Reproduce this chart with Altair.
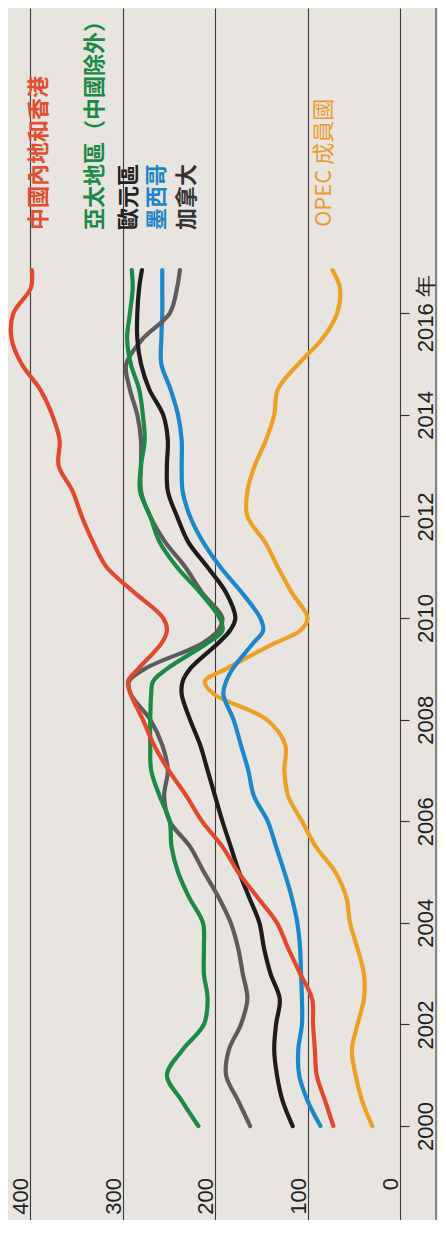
import altair as alt
import pandas as pd

# ---------------- data ----------------
years = [2000, 2000.5, 2001, 2001.5, 2002, 2002.5, 2003, 2003.5, 2004, 2004.5,
         2005, 2005.5, 2006, 2006.5, 2007, 2007.5, 2008, 2008.5, 2008.75, 2009,
         2009.5, 2009.75, 2010, 2010.5, 2011, 2011.5, 2012, 2012.5, 2013, 2013.5,
         2014, 2014.5, 2015, 2015.5, 2016, 2016.5, 2016.85]

china = [72, 81, 90, 92, 94, 95, 108, 121, 133, 154, 175, 192, 214, 231, 250, 266, 278, 291,
         294, 283, 258, 252, 256, 287, 317, 332, 344, 354, 369, 368, 376, 389, 409, 420, 418, 399, 398]
asia = [218, 236, 252, 235, 212, 208, 212, 212, 213, 228, 240, 247, 249, 260, 269, 270, 270, 269,
        267, 252, 209, 192, 195, 216, 241, 260, 270, 281, 280, 276, 278, 282, 291, 295, 292, 289, 290]
euro = [116, 127, 133, 136, 134, 130, 140, 147, 152, 163, 174, 183, 192, 200, 208, 216, 227, 236,
        235, 227, 197, 184, 178, 188, 208, 229, 241, 251, 252, 251, 256, 271, 280, 284, 284, 282, 279]
mexico = [86, 100, 109, 110, 106, 106, 107, 108, 111, 117, 125, 134, 143, 158, 164, 172, 180, 191,
          188, 181, 159, 148, 151, 171, 194, 213, 227, 235, 236, 236, 240, 248, 258, 258, 257, 257, 257]
canada = [162, 175, 188, 185, 172, 165, 170, 175, 183, 196, 212, 227, 249, 255, 251, 257, 270, 291,
          293, 276, 214, 197, 192, 214, 232, 254, 270, 280, 280, 280, 284, 292, 296, 278, 249, 241, 238]
opec = [30, 41, 48, 52, 46, 39, 39, 46, 54, 58, 70, 91, 106, 121, 125, 124, 144, 201,
        211, 188, 136, 108, 100, 117, 132, 146, 165, 165, 157, 145, 136, 132, 110, 84, 68, 65, 73]

series_names = ["中國內地和香港", "亞太地區（中國除外）", "歐元區", "墨西哥", "加拿大", "OPEC 成員國"]
series_values = [china, asia, euro, mexico, canada, opec]

value_ticks = [0, 100, 200, 300, 400]
year_ticks = [2000, 2002, 2004, 2006, 2008, 2010, 2012, 2014, 2016]

# ---------------- styles ----------------
line_colors = {
    "中國內地和香港": "#e2492c",
    "亞太地區（中國除外）": "#1b8a45",
    "歐元區": "#1c1c1c",
    "墨西哥": "#1d87cb",
    "加拿大": "#5c5c5c",
    "OPEC 成員國": "#eca126",
}
label_colors = {
    "中國內地和香港": "#e24f30",
    "亞太地區（中國除外）": "#1a8a45",
    "歐元區": "#222222",
    "墨西哥": "#1f86c6",
    "加拿大": "#333333",
    "OPEC 成員國": "#eb9b2e",
}
# label anchor positions inside the plot (pixels)
label_pos = {
    "中國內地和香港": (9, 222),
    "亞太地區（中國除外）": (65, 222),
    "歐元區": (99, 222),
    "墨西哥": (127, 222),
    "加拿大": (157, 222),
    "OPEC 成員國": (294, 219),
}
label_weight = {
    "中國內地和香港": "bold",
    "亞太地區（中國除外）": "bold",
    "歐元區": "bold",
    "墨西哥": "bold",
    "加拿大": "bold",
    "OPEC 成員國": "normal",
}
draw_order = ["OPEC 成員國", "墨西哥", "加拿大", "歐元區", "亞太地區（中國除外）", "中國內地和香港"]

LATIN = "Liberation Sans"
CJK = "Noto Sans CJK TC"
W, H = 370, 1212

rows = []
for name, vals in zip(series_names, series_values):
    for yr, v in zip(years, vals):
        rows.append({"series": name, "year": yr, "value": v})
df = pd.DataFrame(rows)

xscale = alt.Scale(domain=[0, 400], reverse=True, nice=False, zero=False)
yscale = alt.Scale(domain=[1998.15, 2022.01], nice=False, zero=False)

x_axis = alt.Axis(values=value_ticks, grid=True, gridColor="#3a3a3a", gridWidth=1.1,
                  labels=False, ticks=False, domain=False, title=None)
y_axis = alt.Axis(orient="right", values=year_ticks, format="d",
                  labelExpr="datum.value == 2016 ? '2016 年' : datum.label",
                  labelAngle=270, labelAlign="center", labelBaseline="top",
                  labelPadding=6, tickSize=9, tickColor="#333333", tickWidth=1.2,
                  domain=False, grid=False, labelFont=LATIN, labelFontSize=22,
                  labelColor="#222222", title=None)

layers = []
for name in draw_order:
    layers.append(
        alt.Chart(df[df["series"] == name]).mark_line(
            strokeWidth=4.2, interpolate="catmull-rom", strokeCap="round", strokeJoin="round",
            color=line_colors[name]
        ).encode(
            x=alt.X("value:Q", scale=xscale, axis=x_axis),
            y=alt.Y("year:Q", scale=yscale, axis=y_axis),
            order=alt.Order("year:Q"),
        )
    )

vl_df = pd.DataFrame({"v": value_ticks, "t": [str(v) for v in value_ticks]})
value_labels = alt.Chart(vl_df).mark_text(
    angle=270, align="right", baseline="bottom", dy=3, fontSize=22, font=LATIN, color="#222222"
).encode(
    x=alt.X("v:Q", scale=xscale, axis=x_axis),
    y=alt.value(1170),
    text="t:N",
)
layers.append(value_labels)

for name in series_names:
    px, py = label_pos[name]
    layers.append(
        alt.Chart(pd.DataFrame({"label": [name]})).mark_text(
            angle=270, align="left", baseline="middle", fontSize=22, font=CJK,
            fontWeight=label_weight[name], color=label_colors[name]
        ).encode(text="label:N", x=alt.value(px), y=alt.value(py))
    )

border = alt.Chart(pd.DataFrame({"a": [0]})).mark_rule(color="#3a3a3a", strokeWidth=1.1).encode(
    x=alt.value(406), y=alt.value(0), y2=alt.value(H)
)
layers.append(border)

chart = alt.layer(*layers).properties(
    width=W, height=H,
    padding={"left": 22, "top": 0, "right": 38, "bottom": 0},
    autosize=alt.AutoSizeParams(type="none"),
    background="#e8e4df",
).configure_view(stroke=None)

chart.save("out.html", embed_options={"renderer": "svg", "actions": False})
